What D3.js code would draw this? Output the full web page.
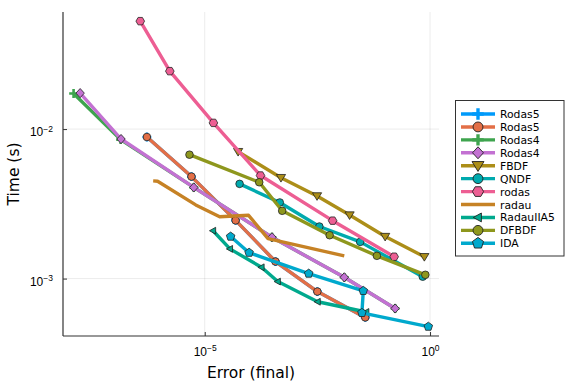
<!DOCTYPE html>
<html>
<head>
<meta charset="utf-8">
<style>
    body { margin: 0; background: white; }
    svg { font-family: 'DejaVu Sans', sans-serif; }
    .grid line { stroke: rgba(0, 0, 0, .1); stroke-width: 0.8; }
    .axis .domain { stroke: #333; stroke-width: 1.2; }
    .axis .tick line { stroke: #333; stroke-width: 1; }
    .axis .tick text { font-size: 12px; fill: #000; }
</style>
</head>
<body>
<svg width="576" height="384"></svg>

<script src="https://d3js.org/d3.v7.min.js"></script>
<script>
    // series (error, time)
    const names  = ["Rodas5", "Rodas5", "Rodas4", "Rodas4", "FBDF", "QNDF", "rodas", "radau", "RadauIIA5", "DFBDF", "IDA"]
    const shapes = ["cross", "circle", "cross", "diamond", "dtriangle", "circle", "hexagon", "none", "ltriangle", "circle", "pentagon"]
    const colors = ["#009AFA", "#E36F47", "#3EA44E", "#C371D2", "#AC8E18", "#00AAAE", "#ED5E93", "#C68225", "#00A98D", "#8E971D", "#00A9CD"]

    const errRodas5 = [5.21e-7, 5.08e-6, 4.85e-5, 3.72e-4, 3.16e-3, 3.65e-2]
    const timeRodas5 = [8.85e-3, 4.81e-3, 2.45e-3, 1.30e-3, 8.19e-4, 5.50e-4]
    const errRodas4a = [1.23e-8, 1.36e-7, 5.72e-6, 3.11e-4, 1.25e-2, 1.68e-1]
    const timeRodas4a = [1.73e-2, 8.50e-3, 4.07e-3, 1.89e-3, 1.02e-3, 6.31e-4]
    const errRodas4 = [1.72e-8, 1.39e-7, 5.72e-6, 3.11e-4, 1.25e-2, 1.68e-1]
    const timeRodas4 = [1.74e-2, 8.58e-3, 4.07e-3, 1.89e-3, 1.02e-3, 6.31e-4]
    const errFBDF = [5.51e-5, 4.92e-4, 3.11e-3, 1.64e-2, 1.01e-1, 7.48e-1]
    const timeFBDF = [7.06e-3, 4.73e-3, 3.57e-3, 2.66e-3, 1.91e-3, 1.40e-3]
    const errQNDF = [5.94e-5, 4.63e-4, 3.50e-3, 2.82e-2, 6.89e-1]
    const timeQNDF = [4.30e-3, 3.23e-3, 2.23e-3, 1.76e-3, 1.03e-3]
    const errRodas = [3.71e-7, 1.68e-6, 1.56e-5, 1.73e-4, 6.89e-3, 1.60e-1]
    const timeRodas = [5.27e-2, 2.44e-2, 1.10e-2, 4.89e-3, 2.44e-3, 1.40e-3]
    const errRadau = [7.18e-7, 9.0e-7, 6.32e-6, 2.15e-5, 9.40e-5, 2.54e-4, 1.25e-2]
    const timeRadau = [4.50e-3, 4.48e-3, 3.11e-3, 2.59e-3, 2.65e-3, 1.85e-3, 1.42e-3]
    const errRadauIIA5 = [1.53e-5, 3.63e-5, 1.82e-4, 4.18e-4, 3.21e-3, 3.84e-2]
    const timeRadauIIA5 = [2.09e-3, 1.58e-3, 1.19e-3, 9.55e-4, 7.00e-4, 5.98e-4]
    const errDFBDF = [4.59e-6, 1.62e-4, 5.24e-4, 5.92e-3, 6.62e-2, 7.87e-1]
    const timeDFBDF = [6.74e-3, 4.41e-3, 2.84e-3, 1.95e-3, 1.42e-3, 1.06e-3]
    const errIDA = [3.76e-5, 9.66e-5, 2.03e-3, 3.30e-2, 3.08e-2, 9.16e-1]
    const timeIDA = [1.91e-3, 1.49e-3, 1.08e-3, 8.28e-4, 5.90e-4, 4.77e-4]

    const xTicks = [1e-5, 1e0]
    const yTicks = [1e-3, 1e-2]

    const errs = [errRodas5, errRodas5, errRodas4a, errRodas4, errFBDF, errQNDF, errRodas, errRadau, errRadauIIA5, errDFBDF, errIDA]
    const times = [timeRodas5, timeRodas5, timeRodas4a, timeRodas4, timeFBDF, timeQNDF, timeRodas, timeRadau, timeRadauIIA5, timeDFBDF, timeIDA]

    let series = names.map((n, i) => ({
        name: n, shape: shapes[i], color: colors[i],
        pts: errs[i].map((e, j) => [e, times[i][j]])
    }))

    let svg = d3.select("svg")
    let plot = { left: 63, right: 439, top: 12, bottom: 336 }

    let x = d3.scaleLog()
        .domain([Math.pow(10, -8.145), Math.pow(10, 0.199)])
        .range([plot.left, plot.right])
    let y = d3.scaleLog()
        .domain([Math.pow(10, -3.384), Math.pow(10, -1.217)])
        .range([plot.bottom, plot.top])

    // grid
    let grid = svg.append("g").attr("class", "grid")
    grid.selectAll(".gx").data(xTicks).join("line")
        .attr("x1", d => x(d)).attr("x2", d => x(d))
        .attr("y1", plot.top).attr("y2", plot.bottom)
    grid.selectAll(".gy").data(yTicks).join("line")
        .attr("class", "gy")
        .attr("y1", d => y(d)).attr("y2", d => y(d))
        .attr("x1", plot.left).attr("x2", plot.right)

    // axes, ticks pointing inward
    let expo = d => Math.round(Math.log10(d))
    function supLabel(sel) {
        sel.selectAll(".tick text").each(function (d) {
            let t = d3.select(this).text("")
            t.append("tspan").text("10")
            t.append("tspan").attr("dy", "-0.5em").style("font-size", "8.5px")
                .text(expo(d) < 0 ? "\u2212" + Math.abs(expo(d)) : expo(d))
        })
    }

    let xAxis = svg.append("g").attr("class", "axis")
        .attr("transform", `translate(0,${plot.bottom})`)
        .call(d3.axisBottom(x).tickValues(xTicks).tickSizeInner(-4).tickSizeOuter(0).tickPadding(11))
    xAxis.call(supLabel)
    xAxis.select(".domain").attr("d", `M${plot.left},0H${plot.right}`)

    let yAxis = svg.append("g").attr("class", "axis")
        .attr("transform", `translate(${plot.left},0)`)
        .call(d3.axisLeft(y).tickValues(yTicks).tickSizeInner(-4).tickSizeOuter(0).tickPadding(10))
    yAxis.call(supLabel)
    yAxis.selectAll(".tick text").attr("dy", "0.55em")
    yAxis.select(".domain").attr("d", `M0,${plot.top}V${plot.bottom}`)

    // markers
    function markerPath(shape) {
        let r = 3.8
        let poly = pts => "M" + pts.map(p => p.join(",")).join("L") + "Z"
        let regular = (n, rad, rot) => d3.range(n).map(k => {
            let a = rot + k * 2 * Math.PI / n
            return [rad * Math.cos(a), rad * Math.sin(a)]
        })
        if (shape == "circle") return d3.symbol(d3.symbolCircle, Math.PI * r * r)()
        if (shape == "diamond") return poly([[0, -4.6], [4.2, 0], [0, 4.6], [-4.2, 0]])
        if (shape == "dtriangle") return poly([[-4.6, -3.2], [4.6, -3.2], [0, 4.4]])
        if (shape == "ltriangle") return poly([[-3.6, 0], [2.6, -3.4], [2.6, 3.4]])
        if (shape == "hexagon") return poly(regular(6, 4.3, 0))
        if (shape == "pentagon") return poly(regular(5, 4.5, -Math.PI / 2))
        if (shape == "cross") return poly([[-1.3, -4.4], [1.3, -4.4], [1.3, -1.3], [4.4, -1.3], [4.4, 1.3], [1.3, 1.3],
            [1.3, 4.4], [-1.3, 4.4], [-1.3, 1.3], [-4.4, 1.3], [-4.4, -1.3], [-1.3, -1.3]])
        return null
    }

    let line = d3.line().x(d => x(d[0])).y(d => y(d[1]))

    series.forEach(s => {
        let g = svg.append("g")
        g.append("path")
            .attr("d", line(s.pts))
            .attr("fill", "none")
            .attr("stroke", s.color)
            .attr("stroke-width", 3.4)
            .attr("stroke-linejoin", "round")
        if (s.shape != "none") {
            g.selectAll("path.m").data(s.pts).join("path")
                .attr("class", "m")
                .attr("d", markerPath(s.shape))
                .attr("transform", d => `translate(${x(d[0])},${y(d[1])})`)
                .attr("fill", s.color)
                .attr("stroke", s.shape == "cross" ? "none" : "#222")
                .attr("stroke-width", 0.8)
        }
    })

    // axis titles
    svg.append("text")
        .attr("x", (plot.left + plot.right) / 2).attr("y", 378)
        .attr("text-anchor", "middle").style("font-size", "15.5px")
        .text("Error (final)")
    svg.append("text")
        .attr("transform", `translate(19,${(plot.top + plot.bottom) / 2}) rotate(-90)`)
        .attr("text-anchor", "middle").style("font-size", "15.5px")
        .text("Time (s)")

    // legend
    let legend = svg.append("g")
    legend.append("rect")
        .attr("x", 455.5).attr("y", 100.5).attr("width", 108.5).attr("height", 155.5)
        .attr("fill", "white").attr("stroke", "#333").attr("stroke-width", 1)
    let rowY = d3.scaleLinear().domain([0, names.length - 1]).range([114, 243.3])
    series.forEach((s, i) => {
        let yy = rowY(i)
        legend.append("line")
            .attr("x1", 461).attr("x2", 495).attr("y1", yy).attr("y2", yy)
            .attr("stroke", s.color).attr("stroke-width", 3.4)
        if (s.shape != "none") {
            legend.append("path")
                .attr("d", markerPath(s.shape))
                .attr("transform", `translate(478,${yy}) scale(1.3)`)
                .attr("fill", s.color)
                .attr("stroke", s.shape == "cross" ? "none" : "#222")
                .attr("stroke-width", 0.7)
        }
        legend.append("text")
            .attr("x", 500).attr("y", yy + 4)
            .style("font-size", "10.8px")
            .text(s.name)
    })
</script>
</body>
</html>
